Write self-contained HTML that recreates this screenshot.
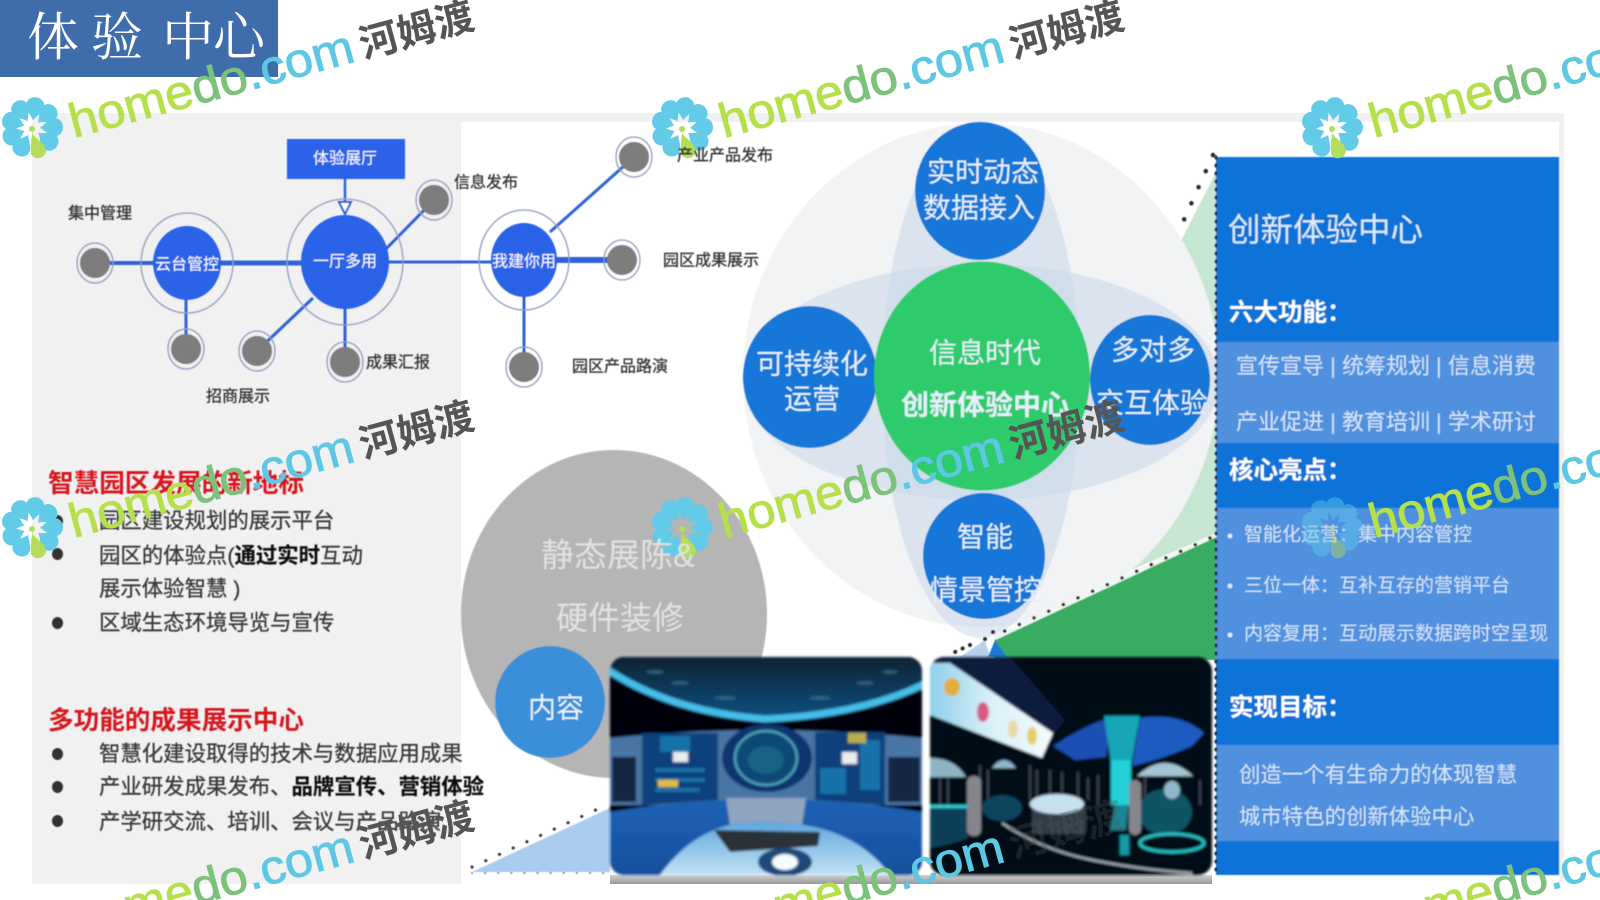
<!DOCTYPE html>
<html lang="zh">
<head>
<meta charset="utf-8">
<title>体验中心</title>
<style>
html,body{margin:0;padding:0;background:#fff;width:1600px;height:900px;overflow:hidden}
#f{position:relative;width:1600px;height:900px;overflow:hidden}
svg{display:block;width:1600px;height:900px;overflow:hidden}
text{font-family:"Liberation Sans","Noto Sans CJK SC",sans-serif;dominant-baseline:central}
.lbl{font-size:16px;fill:#333;stroke:#333;stroke-width:.3;text-anchor:middle}
.wn{font-size:16px;fill:#fff;text-anchor:middle}
.big{font-size:28px;fill:#e4f0fb;text-anchor:middle}
.li{font-size:21.4px;fill:#3a3a3a;stroke:#3a3a3a;stroke-width:.3}
.red{font-size:25.6px;fill:#d8141c;font-weight:700}
.hd{font-size:24.5px;fill:#fff;font-weight:700}
.row{font-size:22px;fill:#d6e5f7}
.pt{font-size:19px;fill:#d6e5f7}
.wh{font-size:48px;dominant-baseline:auto;stroke-width:.9}
.wc{font-size:39px;font-weight:700;fill:#555}
</style>
</head>
<body>
<div id="f">
<svg xmlns="http://www.w3.org/2000/svg" width="1600" height="900" viewBox="0 0 1600 900">
<defs>
<filter id="b" x="-5%" y="-5%" width="110%" height="110%"><feGaussianBlur stdDeviation="0.5"/></filter>
<filter id="b2" x="-5%" y="-5%" width="110%" height="110%"><feGaussianBlur stdDeviation="1.2"/></filter>
<clipPath id="p1"><rect x="610" y="657" width="312" height="218" rx="14"/></clipPath>
<clipPath id="p2"><rect x="930" y="657" width="282" height="218" rx="14"/></clipPath>
<clipPath id="fr"><rect x="0" y="0" width="1600" height="900"/></clipPath>
<linearGradient id="ceil" x1="0" y1="0" x2="0" y2="1"><stop offset="0" stop-color="#0a2232"/><stop offset="1" stop-color="#0b4f80"/></linearGradient>
<linearGradient id="floor" x1="0" y1="0" x2="0" y2="1"><stop offset="0" stop-color="#1c62b6"/><stop offset="1" stop-color="#174f9c"/></linearGradient>
<linearGradient id="swirl" x1="0" y1="0" x2="0" y2="1"><stop offset="0" stop-color="#5fa6de"/><stop offset="1" stop-color="#c2e2f4"/></linearGradient>
<linearGradient id="shade" x1="0" y1="0" x2="0" y2="1"><stop offset="0" stop-color="#d0d0d2"/><stop offset="1" stop-color="#98989c"/></linearGradient>
<linearGradient id="ban" x1="0" y1="0" x2="1" y2="0"><stop offset="0" stop-color="#8fd0ea"/><stop offset=".5" stop-color="#d9f0f8"/><stop offset="1" stop-color="#f4fbfd"/></linearGradient>
<path id="pe" d="M0 -8C-3 -13 -9 -17 -9 -23A9 8 0 0 1 9 -23C9 -17 3 -13 0 -8Z" fill="#62cbe8"/>
<g id="fl" transform="translate(-1 -2)">
<use href="#pe" transform="rotate(8)"/>
<use href="#pe" transform="rotate(48)"/>
<use href="#pe" transform="rotate(88)"/>
<use href="#pe" transform="rotate(128)"/>
<use href="#pe" transform="rotate(208)"/>
<use href="#pe" transform="rotate(248)"/>
<use href="#pe" transform="rotate(288)"/>
<use href="#pe" transform="rotate(328)"/>
<path d="M0 4C1 10 14 15 14 23A8 8 0 0 1 -1 26C-2 18 0 10 0 4Z" fill="#b5dd5c"/>
<circle cx="0" cy="1" r="3" fill="#b5dd5c"/>
</g>
</defs>

<rect width="1600" height="900" fill="#fff"/>
<rect x="32" y="113" width="1532" height="771" fill="#f1f1f2"/>
<rect x="461" y="122" width="1098" height="762" fill="#fff"/>

<g filter="url(#b)">
<!-- pale green wedge -->
<polygon points="1216,172 1100,400 1120,575 1216,533" fill="#c6e6d2"/>
<!-- big circle with petals -->
<ellipse cx="981" cy="375" rx="238" ry="252" fill="#f1f3f5"/>
<ellipse cx="981" cy="380" rx="99" ry="258" fill="#c5d6e8" opacity=".5"/>
<ellipse cx="981" cy="382" rx="238" ry="118" fill="#c5d6e8" opacity=".5"/>
<!-- dark green wedge -->
<polygon points="995,638 1216,535 1216,660 995,660" fill="#38ad62"/>
<polygon points="960,657 985,640 990,657" fill="#b8d0ee"/>
<polygon points="988,657 995,640 1007,657" fill="#1c7ad6"/>
<!-- light blue triangle -->
<polygon points="472,872 610,808 610,872" fill="#a9ccef"/>
<!-- grey circle -->
<ellipse cx="614" cy="614" rx="153" ry="164" fill="#b5b5b6"/>
<ellipse cx="550" cy="702" rx="55" ry="56" fill="#3b8fd9"/>
<text x="620" y="618" font-size="32" fill="#e2e2e2" text-anchor="middle">硬件装修</text>
<text x="556" y="708" font-size="28" fill="#e8f2fb" text-anchor="middle">内容</text>
<!-- circles -->
<ellipse cx="980" cy="191" rx="65" ry="69" fill="#1877d8"/>
<ellipse cx="810" cy="377" rx="67" ry="71" fill="#1877d8"/>
<ellipse cx="1150" cy="380" rx="60" ry="65" fill="#1877d8"/>
<ellipse cx="984" cy="556" rx="61" ry="63" fill="#1877d8"/>
<ellipse cx="982" cy="376" rx="108" ry="114.5" fill="#2ecb6c"/>
<text class="big" x="983" y="172">实时动态</text>
<text class="big" x="979" y="208">数据接入</text>
<text class="big" x="812" y="364">可持续化</text>
<text class="big" x="812" y="399">运营</text>
<text class="big" x="985" y="353" fill="#e2f7e8">信息时代</text>
<text class="big" x="985" y="405" font-weight="700" font-size="27">创新体验中心</text>
<text class="big" x="1153" y="350">多对多</text>
<text class="big" x="1152" y="403">交互体验</text>
<text class="big" x="985" y="537">智能</text>
<text class="big" x="986" y="590">情景管控</text>

<!-- blue panel -->
<rect x="1216" y="157" width="343" height="718" fill="#1173d9"/>
<rect x="1216" y="342" width="343" height="101" fill="#4f90df"/>
<rect x="1216" y="508" width="343" height="151" fill="#4f90df"/>
<rect x="1216" y="745" width="343" height="96" fill="#4f90df"/>
<text x="1228" y="230" font-size="32.5" fill="#dbe9fa">创新体验中心</text>
<text class="hd" x="1229" y="313">六大功能：</text>
<text class="row" x="1236" y="366">宣传宣导 | 统筹规划 | 信息消费</text>
<text class="row" x="1236" y="422">产业促进 | 教育培训 | 学术研讨</text>
<text class="hd" x="1229" y="471">核心亮点：</text>
<circle cx="1230" cy="536" r="2.5" fill="#dbe9fa"/>
<circle cx="1230" cy="586" r="2.5" fill="#dbe9fa"/>
<circle cx="1230" cy="635" r="2.5" fill="#dbe9fa"/>
<text class="pt" x="1244" y="535">智能化运营：集中内容管控</text>
<text class="pt" x="1244" y="586">三位一体：互补互存的营销平台</text>
<text class="pt" x="1244" y="634">内容复用：互动展示数据跨时空呈现</text>
<text class="hd" x="1229" y="708">实现目标：</text>
<text x="1239" y="775" font-size="21.4" fill="#d6e5f7">创造一个有生命力的体现智慧</text>
<text x="1239" y="817" font-size="21.4" fill="#d6e5f7">城市特色的创新体验中心</text>

<!-- dotted connectors -->
<path d="M1216 535L995 638" stroke="#eef8f0" stroke-width="4" fill="none"/>
<g fill="none" stroke="#2a2a2a" stroke-linecap="round">
<path d="M1216 157V875" stroke-width="3" stroke-dasharray="1 7"/>
<path d="M1213 155L1183 222" stroke-width="4.5" stroke-dasharray="0.1 17.5"/>
<path d="M1210 538L994 636" stroke-width="3.5" stroke-dasharray="0.1 16"/>
<path d="M993 632L986 632M985 639V647M970 645L955 652" stroke-width="4" stroke-dasharray="0.1 8"/>
<path d="M472 867L600 808" stroke-width="3" stroke-dasharray="0.1 15"/>
<path d="M472 873H610" stroke-width="2" stroke="#777" stroke-dasharray="0.1 13"/>
</g>

<!-- network: lines -->
<g stroke="#2f62d6" fill="none">
<path d="M95 263H187" stroke-width="4"/>
<path d="M187 263H345" stroke-width="5"/>
<path d="M345 262H524" stroke-width="3"/>
<path d="M524 260H622" stroke-width="6"/>
<path d="M186 290V349M345 300V362M524 290V367" stroke-width="3"/>
<path d="M313 298L257 351M385 250L434 200M550 232L634 157" stroke-width="3"/>
<path d="M345 179V214" stroke-width="2.5"/>
</g>
<!-- outer rings -->
<g fill="none" stroke="#8f9bbd" stroke-width="1.3">
<ellipse cx="187" cy="263" rx="46" ry="50"/>
<ellipse cx="345" cy="262" rx="58" ry="63"/>
<ellipse cx="524" cy="260" rx="45" ry="50"/>
<ellipse cx="95" cy="263" rx="18" ry="20"/>
<ellipse cx="186" cy="349" rx="18" ry="20"/>
<ellipse cx="257" cy="351" rx="18" ry="20"/>
<ellipse cx="345" cy="362" rx="18" ry="20"/>
<ellipse cx="434" cy="200" rx="18" ry="20"/>
<ellipse cx="634" cy="157" rx="18" ry="20"/>
<ellipse cx="622" cy="260" rx="18" ry="20"/>
<ellipse cx="524" cy="367" rx="18" ry="20"/>
</g>
<g fill="#7d7d7d">
<ellipse cx="95" cy="263" rx="15" ry="15"/>
<ellipse cx="186" cy="349" rx="15" ry="15"/>
<ellipse cx="257" cy="351" rx="15" ry="15"/>
<ellipse cx="345" cy="362" rx="15" ry="15"/>
<ellipse cx="434" cy="200" rx="15" ry="15"/>
<ellipse cx="634" cy="157" rx="15" ry="15"/>
<ellipse cx="622" cy="260" rx="15" ry="15"/>
<ellipse cx="524" cy="367" rx="15" ry="15"/>
</g>
<g fill="#2a62e8">
<ellipse cx="187" cy="263" rx="34" ry="37"/>
<ellipse cx="345" cy="262" rx="44" ry="47"/>
<ellipse cx="524" cy="260" rx="33" ry="37"/>
<rect x="287" y="139" width="118" height="40"/>
</g>
<path d="M339 202H351L345 214Z" fill="#fff" stroke="#2f62d6" stroke-width="2"/>
<text class="wn" x="345" y="159">体验展厅</text>
<text class="wn" x="187" y="265">云台管控</text>
<text class="wn" x="345" y="262">一厅多用</text>
<text class="wn" x="524" y="262">我建你用</text>
<text class="lbl" x="100" y="214">集中管理</text>
<text class="lbl" x="486" y="183">信息发布</text>
<text class="lbl" x="711" y="261">园区成果展示</text>
<text class="lbl" x="620" y="367">园区产品路演</text>
<text class="lbl" x="398" y="363">成果汇报</text>
<text class="lbl" x="238" y="397">招商展示</text>

<!-- left text -->
<text class="red" x="48" y="484">智慧园区发展的新地标</text>
<g fill="#333">
<ellipse cx="57.5" cy="521" rx="5.5" ry="6"/>
<ellipse cx="57.5" cy="554" rx="5.5" ry="6"/>
<ellipse cx="57.5" cy="623" rx="5.5" ry="6"/>
<ellipse cx="57.5" cy="754" rx="5.5" ry="6"/>
<ellipse cx="57.5" cy="787" rx="5.5" ry="6"/>
<ellipse cx="57.5" cy="821" rx="5.5" ry="6"/>
</g>
<text class="li" x="99" y="521">园区建设规划的展示平台</text>
<text class="li" x="99" y="556">园区的体验点(<tspan font-weight="700" fill="#111">通过实时</tspan>互动</text>
<text class="li" x="99" y="589">展示体验智慧 )</text>
<text class="li" x="99" y="623">区域生态环境导览与宣传</text>
<text class="red" x="48" y="721">多功能的成果展示中心</text>
<text class="li" x="99" y="754">智慧化建设取得的技术与数据应用成果</text>
<text class="li" x="99" y="787">产业研发成果发布、<tspan font-weight="700" fill="#111">品牌宣传、营销体验</tspan></text>
<text class="li" x="99" y="822">产学研交流、培训、会议与产品路演</text>
</g>

<!-- photos -->
<rect x="610" y="875" width="602" height="9" fill="url(#shade)"/>
<g filter="url(#b2)">
<g clip-path="url(#p1)">
<rect x="610" y="657" width="312" height="218" fill="#03060e"/>
<path d="M610 657H922V680Q860 712 765 718Q672 712 610 668Z" fill="url(#ceil)"/>
<g fill="#4d8aa8" opacity=".5">
<ellipse cx="655" cy="672" rx="9" ry="2"/><ellipse cx="680" cy="683" rx="9" ry="2"/><ellipse cx="725" cy="698" rx="11" ry="2"/><ellipse cx="820" cy="698" rx="11" ry="2"/><ellipse cx="865" cy="683" rx="9" ry="2"/><ellipse cx="890" cy="672" rx="8" ry="2"/>
</g>
<path d="M608 670Q672 712 765 719Q860 715 924 684" fill="none" stroke="#45bde8" stroke-width="7"/>
<path d="M610 738Q765 722 922 738V805H610Z" fill="#4a74a4"/>
<rect x="612" y="757" width="24" height="45" fill="#152844"/>
<rect x="888" y="757" width="32" height="45" fill="#152844"/>
<path d="M642 733H718V800L642 805Z" fill="#0b3f7c"/>
<path d="M815 732H885V805L815 800Z" fill="#0b3f7c"/>
<g fill="#1672a8"><rect x="660" y="736" width="30" height="16"/><rect x="655" y="768" width="50" height="4"/><rect x="655" y="778" width="50" height="4"/><rect x="655" y="788" width="45" height="4"/><rect x="820" y="768" width="26" height="26"/><rect x="860" y="740" width="20" height="50"/></g>
<rect x="673" y="752" width="15" height="10" fill="#e8edf0"/>
<rect x="658" y="780" width="20" height="7" fill="#dcc03f"/>
<rect x="842" y="752" width="15" height="12" fill="#e8edf0"/>
<rect x="848" y="733" width="18" height="10" fill="#b6b04a"/>
<ellipse cx="767" cy="758" rx="45" ry="34" fill="#0a3570"/>
<ellipse cx="766" cy="758" rx="31" ry="27" fill="#0d4a76" stroke="#56b3c6" stroke-width="2"/>
<ellipse cx="766" cy="760" rx="18" ry="14" fill="#126484"/>
<path d="M610 812Q765 786 922 812V875H610Z" fill="url(#floor)"/>
<path d="M726 798H806L802 825H730Z" fill="#8fa5c0"/>
<path d="M660 875Q700 820 760 822Q850 820 890 875Z" fill="url(#swirl)"/>
<path d="M714 830L820 832L818 846L730 852Z" fill="#2b3038"/>
<ellipse cx="785" cy="862" rx="27" ry="14" fill="#1d4a78"/>
<ellipse cx="785" cy="862" rx="13" ry="8" fill="#f6fbff"/>
</g>
<g clip-path="url(#p2)">
<rect x="930" y="657" width="282" height="218" fill="#040817"/>
<polygon points="930,657 1010,657 1065,720 1053,735" fill="#12306a" opacity=".45"/>
<polygon points="930,663 950,663 1053,733 1042,758 930,715" fill="url(#ban)"/>
<ellipse cx="952" cy="687" rx="8" ry="9" fill="#e3ac3c"/>
<ellipse cx="983" cy="712" rx="6" ry="10" fill="#d95a82"/>
<ellipse cx="1013" cy="729" rx="5" ry="9" fill="#e9d8a8"/>
<ellipse cx="1032" cy="736" rx="5" ry="9" fill="#e4cc70"/>
<!-- mushroom tree -->
<path d="M1053 746Q1085 725 1112 717L1106 757L1075 760Z" fill="#1a50b4"/>
<path d="M1140 718Q1180 712 1204 733L1192 746Q1160 760 1132 766Z" fill="#1c5cc0"/>
<path d="M1104 716H1140L1130 770H1112Z" fill="#17a6b6"/>
<rect x="1111" y="760" width="20" height="45" fill="#22d0d6"/>
<polygon points="1115,805 1128,805 1126,830 1110,830" fill="#148898"/>
<!-- faint people stripes -->
<g stroke="#8a8f98" stroke-width="2" opacity=".45">
<path d="M940 770V805M948 775V805M980 765V810M988 770V805M1030 765V800M1037 770V800M1050 770V800M1062 772V798M1078 772V800M1088 778V800M1098 775V805M1145 775V800M1200 780V805"/>
</g>
<!-- domes -->
<path d="M930 777V758Q955 758 966 777Z" fill="#8fb2c4"/>
<path d="M992 768Q1004 752 1016 768Z" fill="#8fb8cc"/>
<path d="M1137 776Q1165 750 1193 776Z" fill="#a4c6d4"/>
<!-- basins -->
<path d="M930 806H968V838Q950 845 930 848Z" fill="#0c4058"/>
<rect x="930" y="805" width="38" height="3" fill="#33d6d8"/>
<ellipse cx="1002" cy="808" rx="20" ry="13" fill="#0e445e"/>
<rect x="1032" y="807" width="54" height="27" rx="4" fill="#333d4a"/>
<ellipse cx="1057" cy="804" rx="27" ry="10" fill="#c6e0ee"/>
<ellipse cx="1165" cy="812" rx="27" ry="23" fill="#0d5464"/>
<ellipse cx="1172" cy="790" rx="8" ry="9" fill="#8fb8c8"/>
<ellipse cx="1172" cy="843" rx="32" ry="9" fill="none" stroke="#2cc4c8" stroke-width="3"/>
<rect x="1120" y="835" width="9" height="20" fill="#169aa8"/>
<rect x="967" y="776" width="14" height="60" rx="6" fill="#85858c"/>
<rect x="1129" y="780" width="12" height="55" rx="6" fill="#85858e"/>
<path d="M1002 823Q1042 850 1092 860T1192 873" fill="none" stroke="#aeb8c4" stroke-width="2"/>
</g>
</g>

<!-- title -->
<rect x="0" y="0" width="278" height="77" fill="#3f6cab"/>
<text x="27 91 162 213" y="39" font-size="52" fill="#fff" style='font-family:"Liberation Serif","Noto Serif CJK SC",serif'>体验中心</text>

<!-- watermarks -->
<g clip-path="url(#fr)">
<g transform="translate(33 130)"><use href="#fl"/><text class="wh" transform="translate(41 8) rotate(-15.2)" textLength="293" lengthAdjust="spacingAndGlyphs"><tspan fill="#b5e04a" stroke="#b5e04a">home</tspan><tspan fill="#7cc27a" stroke="#7cc27a">do</tspan><tspan fill="#5cc8e4" stroke="#5cc8e4">.com</tspan></text><text class="wc" transform="translate(331 -70) rotate(-15.2)" y="-14">河姆渡</text></g>
<g transform="translate(683 130)"><use href="#fl"/><text class="wh" transform="translate(41 8) rotate(-15.2)" textLength="293" lengthAdjust="spacingAndGlyphs"><tspan fill="#b5e04a" stroke="#b5e04a">home</tspan><tspan fill="#7cc27a" stroke="#7cc27a">do</tspan><tspan fill="#5cc8e4" stroke="#5cc8e4">.com</tspan></text><text class="wc" transform="translate(331 -70) rotate(-15.2)" y="-14">河姆渡</text></g>
<g transform="translate(1333 130)"><use href="#fl"/><text class="wh" transform="translate(41 8) rotate(-15.2)" textLength="293" lengthAdjust="spacingAndGlyphs"><tspan fill="#b5e04a" stroke="#b5e04a">home</tspan><tspan fill="#7cc27a" stroke="#7cc27a">do</tspan><tspan fill="#5cc8e4" stroke="#5cc8e4">.com</tspan></text></g>
<g transform="translate(33 530)"><use href="#fl"/><text class="wh" transform="translate(41 8) rotate(-15.2)" textLength="293" lengthAdjust="spacingAndGlyphs"><tspan fill="#b5e04a" stroke="#b5e04a">home</tspan><tspan fill="#7cc27a" stroke="#7cc27a">do</tspan><tspan fill="#5cc8e4" stroke="#5cc8e4">.com</tspan></text><text class="wc" transform="translate(331 -70) rotate(-15.2)" y="-14">河姆渡</text></g>
<g transform="translate(683 530)"><use href="#fl"/><text class="wh" transform="translate(41 8) rotate(-15.2)" textLength="293" lengthAdjust="spacingAndGlyphs"><tspan fill="#b5e04a" stroke="#b5e04a">home</tspan><tspan fill="#7cc27a" stroke="#7cc27a">do</tspan><tspan fill="#5cc8e4" stroke="#5cc8e4">.com</tspan></text><text class="wc" transform="translate(331 -70) rotate(-15.2)" y="-14">河姆渡</text></g>
<g transform="translate(1333 530)"><use href="#fl" opacity=".45"/><text class="wh" transform="translate(41 8) rotate(-15.2)" textLength="293" lengthAdjust="spacingAndGlyphs"><tspan fill="#b5e04a" stroke="#b5e04a">home</tspan><tspan fill="#7cc27a" stroke="#7cc27a">do</tspan><tspan fill="#5cc8e4" stroke="#5cc8e4">.com</tspan></text></g>
<g transform="translate(33 930)"><text class="wh" transform="translate(41 8) rotate(-15.2)" textLength="293" lengthAdjust="spacingAndGlyphs"><tspan fill="#b5e04a" stroke="#b5e04a">home</tspan><tspan fill="#7cc27a" stroke="#7cc27a">do</tspan><tspan fill="#5cc8e4" stroke="#5cc8e4">.com</tspan></text><text class="wc" transform="translate(331 -70) rotate(-15.2)" y="-14">河姆渡</text></g>
<g transform="translate(683 930)"><text class="wh" transform="translate(41 8) rotate(-15.2)" textLength="293" lengthAdjust="spacingAndGlyphs"><tspan fill="#b5e04a" stroke="#b5e04a">home</tspan><tspan fill="#7cc27a" stroke="#7cc27a">do</tspan><tspan fill="#5cc8e4" stroke="#5cc8e4">.com</tspan></text><text class="wc" transform="translate(331 -70) rotate(-15.2)" y="-14" opacity=".3">河姆渡</text></g>
<g transform="translate(1333 930)"><text class="wh" transform="translate(41 8) rotate(-15.2)" textLength="293" lengthAdjust="spacingAndGlyphs"><tspan fill="#b5e04a" stroke="#b5e04a">home</tspan><tspan fill="#7cc27a" stroke="#7cc27a">do</tspan><tspan fill="#5cc8e4" stroke="#5cc8e4">.com</tspan></text></g>
</g>
<!-- labels that sit above the watermark flowers -->
<g filter="url(#b)">
<text class="lbl" x="725" y="156">产业产品发布</text>
<text x="541" y="555" font-size="33" fill="#e2e2e2">静态展陈&amp;</text>
</g>
</svg>
</div>
</body>
</html>
